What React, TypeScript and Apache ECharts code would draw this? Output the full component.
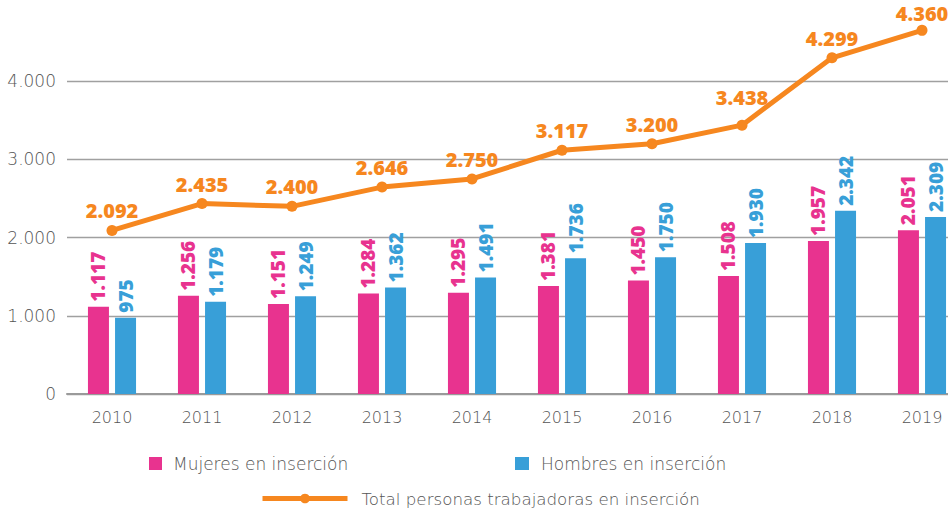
import React, { useEffect, useRef } from "react";
import * as echarts from "echarts";

const years = ["2010", "2011", "2012", "2013", "2014", "2015", "2016", "2017", "2018", "2019"];
const mujeres = [1117, 1256, 1151, 1284, 1295, 1381, 1450, 1508, 1957, 2095];
const mujeresLabels = ["1.117", "1.256", "1.151", "1.284", "1.295", "1.381", "1.450", "1.508", "1.957", "2.051"];
const hombres = [975, 1179, 1249, 1362, 1491, 1736, 1750, 1930, 2342, 2265];
const hombresLabels = ["975", "1.179", "1.249", "1.362", "1.491", "1.736", "1.750", "1.930", "2.342", "2.309"];
const total = [2092, 2435, 2400, 2646, 2750, 3117, 3200, 3438, 4299, 4650];
const totalLabels = ["2.092", "2.435", "2.400", "2.646", "2.750", "3.117", "3.200", "3.438", "4.299", "4.360"];

const PINK = "#e8338f";
const BLUE = "#389fd8";
const ORANGE = "#f6871f";
const GRAY_TEXT = "#555555";
const THIN = "DejaVu Sans";
const BOLD = "Open Sans";

function fmt(v: number): string {
  const s = String(Math.round(v));
  return s.replace(/\B(?=(\d{3})+(?!\d))/g, ".");
}

// label offsets for the line (the reference places a few labels by hand)
function totalLabelDistance(i: number): number {
  if (years[i] === "2017") return 14;
  if (years[i] === "2019") return 3;
  return 6;
}

export default function App() {
  const ref = useRef<HTMLDivElement>(null);
  useEffect(() => {
    if (!ref.current) return;
    const chart = echarts.init(ref.current, undefined, { renderer: "svg" });
    const legendText = {
      color: GRAY_TEXT,
      fontFamily: THIN,
      fontWeight: 200 as any,
      fontSize: 17,
    };
    chart.setOption({
      animation: false,
      grid: {
        left: 67,
        width: 900,
        top: 3,
        bottom: 116,
        containLabel: false,
        outerBoundsMode: "none",
      },
      legend: [
        {
          data: ["Mujeres en inserción"],
          left: 149,
          top: 455,
          padding: 0,
          itemWidth: 13,
          itemHeight: 13,
          icon: "rect",
          selectedMode: false,
          textStyle: { ...legendText, padding: [0, 0, 0, 6] },
        },
        {
          data: ["Hombres en inserción"],
          left: 515,
          top: 455,
          padding: 0,
          itemWidth: 14,
          itemHeight: 13,
          icon: "rect",
          selectedMode: false,
          textStyle: { ...legendText, padding: [0, 0, 0, 7] },
        },
        {
          data: ["Total personas trabajadoras en inserción"],
          left: 260,
          top: 490,
          padding: 0,
          itemWidth: 85,
          itemHeight: 12,
          selectedMode: false,
          lineStyle: { width: 5, color: ORANGE },
          itemStyle: { color: ORANGE },
          textStyle: { ...legendText, fontSize: 16.7, padding: [0, 0, 0, 9] },
        },
      ],
      xAxis: {
        type: "category",
        data: years,
        boundaryGap: true,
        axisLine: { show: true, lineStyle: { color: "#9a9a9a", width: 2 } },
        axisTick: { show: false },
        axisLabel: {
          color: GRAY_TEXT,
          fontFamily: THIN,
          fontWeight: 200,
          fontSize: 16,
          margin: 15,
        },
      },
      yAxis: {
        type: "value",
        min: 0,
        max: 5000,
        interval: 1000,
        axisLine: { show: false },
        axisTick: { show: false },
        splitLine: {
          show: true,
          showMaxLine: false,
          lineStyle: { color: "#a0a0a0", width: 1.3 },
        },
        axisLabel: {
          showMaxLabel: false,
          color: GRAY_TEXT,
          fontFamily: THIN,
          fontWeight: 200,
          fontSize: 17,
          margin: 11,
          formatter: (v: number) => (v >= 5000 ? "" : fmt(v)),
        },
      },
      series: [
        {
          name: "Mujeres en inserción",
          type: "bar",
          data: mujeres,
          barWidth: 21,
          barGap: "29%",
          itemStyle: { color: PINK },
          label: {
            show: true,
            position: "top",
            rotate: 90,
            align: "left",
            verticalAlign: "middle",
            distance: 5,
            color: PINK,
            fontFamily: BOLD,
            fontWeight: 800,
            fontSize: 19,
            formatter: (p: any) => mujeresLabels[p.dataIndex],
          },
        },
        {
          name: "Hombres en inserción",
          type: "bar",
          data: hombres,
          barWidth: 21,
          barGap: "29%",
          itemStyle: { color: BLUE },
          label: {
            show: true,
            position: "top",
            rotate: 90,
            align: "left",
            verticalAlign: "middle",
            distance: 5,
            color: BLUE,
            fontFamily: BOLD,
            fontWeight: 800,
            fontSize: 19,
            formatter: (p: any) => hombresLabels[p.dataIndex],
          },
        },
        {
          name: "Total personas trabajadoras en inserción",
          type: "line",
          data: total.map((v, i) => ({ value: v, label: { distance: totalLabelDistance(i) } })),
          z: 5,
          clip: false,
          symbol: "circle",
          symbolSize: 11,
          lineStyle: { color: ORANGE, width: 5 },
          itemStyle: { color: ORANGE },
          label: {
            show: true,
            position: "top",
            distance: 6,
            color: ORANGE,
            fontFamily: BOLD,
            fontWeight: 800,
            fontSize: 20,
            lineHeight: 16,
            formatter: (p: any) => totalLabels[p.dataIndex],
          },
        },
      ],
    });
    return () => chart.dispose();
  }, []);
  return (
    <div
      ref={ref}
      style={{ position: "fixed", left: 0, top: 0, width: 948, height: 510, background: "#fff" }}
    />
  );
}
